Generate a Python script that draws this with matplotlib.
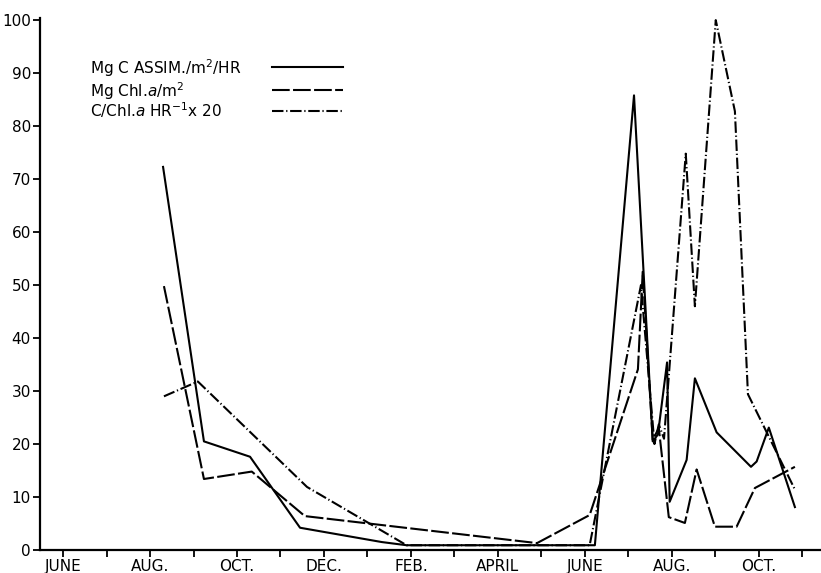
import matplotlib
matplotlib.use('Agg')
import matplotlib.pyplot as plt
import numpy as np

# months counted from the first June (0 = JUNE)
month_labels = ['JUNE', '', 'AUG.', '', 'OCT.', '', 'DEC.', '', 'FEB.', '',
                'APRIL', '', 'JUNE', '', 'AUG.', '', 'OCT.', '']

assim_x = [2.30, 3.24, 4.30, 5.45, 7.33, 7.90, 12.23, 13.13, 13.56, 13.68,
           13.89, 13.95, 14.34, 14.53, 15.03, 15.82, 15.95, 16.23, 16.83]
assim_y = [72.3, 20.5, 17.6, 4.2, 1.5, 0.9, 0.9, 85.8, 20.5, 21.8,
           35.4, 9.1, 17.0, 32.4, 22.2, 15.7, 16.7, 23.1, 8.1]

chl_x = [2.32, 3.24, 4.34, 5.56, 10.90, 12.11, 13.22, 13.33, 13.56, 13.70,
         13.93, 14.30, 14.57, 14.99, 15.49, 15.91, 16.83]
chl_y = [49.8, 13.4, 14.8, 6.4, 1.3, 6.6, 34.1, 52.5, 20.8, 23.0,
         6.2, 5.1, 15.2, 4.4, 4.4, 11.7, 15.7]

ratio_x = [2.32, 3.10, 5.61, 7.90, 12.11, 13.29, 13.60, 13.70, 13.82,
           14.32, 14.53, 15.01, 15.45, 15.75, 16.83]
ratio_y = [29.0, 31.8, 11.9, 0.9, 0.9, 50.0, 20.0, 23.7, 21.0,
           74.8, 46.0, 100.0, 82.8, 29.4, 11.4]

labels = ['Mg C ASSIM./m$^2$/HR', 'Mg Chl.$a$/m$^2$', 'C/Chl.$a$ HR$^{-1}$x 20']
dash_styles = [None, (8.5, 1.6), (5.5, 1.3, 0.6, 1.3)]

fig = plt.figure(figsize=(8.21, 5.73), dpi=100)
ax = fig.add_axes([40 / 821, 23 / 573, 781 / 821, 532 / 573])

lw = 1.5
series = [(assim_x, assim_y), (chl_x, chl_y), (ratio_x, ratio_y)]
for (xs, vals), d in zip(series, dash_styles):
    if d is None:
        ax.plot(xs, vals, color='black', lw=lw)
    else:
        ax.plot(xs, vals, color='black', lw=lw, dashes=d)

ax.set_xlim(-0.53, 17.43)
ax.set_ylim(0, 100.4)
ax.set_xticks(np.arange(len(month_labels)))
ax.set_xticklabels(month_labels)
ax.set_yticks(np.arange(0, 101, 10))

for s in ['top', 'right']:
    ax.spines[s].set_visible(False)
for s in ['left', 'bottom']:
    ax.spines[s].set_linewidth(1.6)
ax.tick_params(axis='both', direction='out', length=5, width=1.3,
               labelsize=11, pad=1.5)

# legend: label text on the left, line sample on the right
ys = [0.895, 0.852, 0.813]
ly = [0.908, 0.865, 0.825]
for lab, d, yt, yl in zip(labels, dash_styles, ys, ly):
    ax.text(0.064, yt, lab, transform=ax.transAxes, fontsize=11, va='baseline')
    if d is None:
        ax.plot([0.297, 0.388], [yl, yl], transform=ax.transAxes, color='black', lw=lw)
    else:
        ax.plot([0.297, 0.388], [yl, yl], transform=ax.transAxes, color='black',
                lw=lw, dashes=d)

fig.savefig('out.png', dpi=100)
